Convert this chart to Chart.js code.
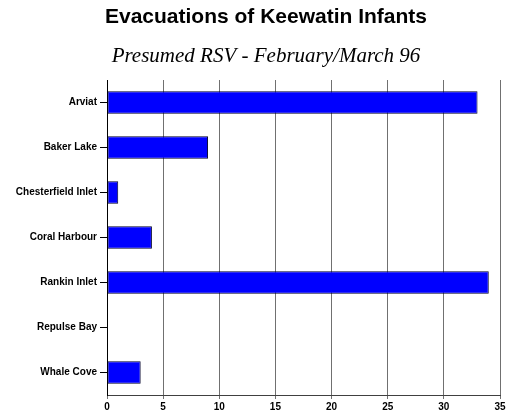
<!DOCTYPE html>
<html><head><meta charset="utf-8">
<script src="https://cdn.jsdelivr.net/npm/chart.js@4"></script>
<style>html,body{margin:0;padding:0;background:#fff}#w{width:515px;height:416px}</style>
</head><body><div id="w"><canvas id="c" width="515" height="416"></canvas></div>
<script>
const categories = ["Arviat","Baker Lake","Chesterfield Inlet","Coral Harbour","Rankin Inlet","Repulse Bay","Whale Cove"];
const evacuations = [33, 9, 1, 4, 34, 0, 3];
const xTicks = [0,5,10,15,20,25,30,35];

const shiftTitles = {
  id: 'shiftTitles',
  afterLayout(chart) {
    chart.boxes.forEach(b => {
      if (b.options && b.options.text !== undefined && b.position === 'top') { b.left += 16; b.right += 16; }
    });
  }
};

new Chart(document.getElementById('c'), {
  type: 'bar',
  data: { labels: categories, datasets: [{ data: evacuations, backgroundColor: '#0000ff', borderColor: '#00002a', borderWidth: 1, borderSkipped: false, barPercentage: 0.5, categoryPercentage: 1 }] },
  plugins: [shiftTitles],
  options: {
    indexAxis: 'y', responsive: false, animation: false, devicePixelRatio: 1,
    layout: { padding: { left: 0, right: 15, top: 0, bottom: 0 } },
    plugins: {
      legend: { display: false }, tooltip: { enabled: false },
      title: { display: true, text: 'Evacuations of Keewatin Infants', color: '#000', font: { family: 'Liberation Sans, Arial', size: 21, weight: 'bold', lineHeight: 1.2 }, padding: { top: 5, bottom: 0 } },
      subtitle: { display: true, text: 'Presumed RSV - February/March 96', color: '#000', font: { family: 'Liberation Serif, Times New Roman', size: 21, style: 'italic', lineHeight: 1.2 }, padding: { top: 13.2, bottom: 11.4 } }
    },
    scales: {
      x: {
        min: 0, max: 35,
        afterBuildTicks: s => { s.ticks = xTicks.map(v => ({ value: v })); },
        afterFit: s => { s.height = 21; },
        grid: { color: '#707070', lineWidth: 1, tickLength: 4 },
        border: { color: '#404040', width: 1 },
        ticks: { color: '#000', padding: 2, font: { family: 'Liberation Sans, Arial', size: 10, weight: 'bold' }, maxRotation: 0 }
      },
      y: {
        afterFit: s => { s.width = 107; },
        grid: { display: true, drawOnChartArea: false, offset: false, color: '#000', tickLength: 7 },
        border: { color: '#000', width: 1 },
        ticks: { color: '#000', padding: 3, font: { family: 'Liberation Sans, Arial', size: 10, weight: 'bold' } }
      }
    }
  }
});
</script></body></html>
